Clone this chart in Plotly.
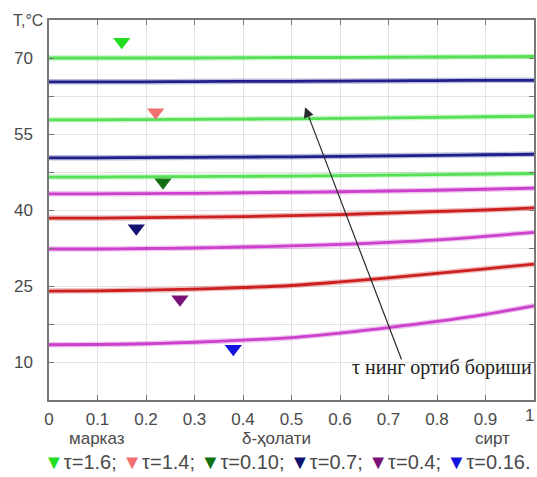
import plotly.graph_objects as go

# dimensionless coordinate from centre (0) to surface (1)
delta = [0.0, 0.1, 0.2, 0.3, 0.4, 0.5, 0.6, 0.7, 0.8, 0.9, 1.0]

# temperature profiles, top to bottom
t_profile_1 = [70.0, 70.0, 70.0, 70.0, 70.05, 70.1, 70.1, 70.15, 70.2, 70.25, 70.3]
t_profile_2 = [65.3, 65.3, 65.3, 65.35, 65.4, 65.4, 65.45, 65.5, 65.55, 65.6, 65.6]
t_profile_3 = [57.8, 57.8, 57.85, 57.9, 57.95, 58.0, 58.1, 58.2, 58.3, 58.4, 58.5]
t_profile_4 = [50.3, 50.3, 50.35, 50.4, 50.45, 50.5, 50.6, 50.7, 50.8, 50.9, 51.0]
t_profile_5 = [46.5, 46.5, 46.55, 46.6, 46.65, 46.7, 46.8, 46.9, 47.0, 47.1, 47.2]
t_profile_6 = [43.2, 43.2, 43.25, 43.3, 43.4, 43.5, 43.6, 43.75, 43.9, 44.1, 44.3]
t_profile_7 = [38.4, 38.4, 38.5, 38.6, 38.7, 38.9, 39.1, 39.4, 39.7, 40.0, 40.4]
t_profile_8 = [32.3, 32.3, 32.4, 32.5, 32.7, 32.9, 33.2, 33.6, 34.1, 34.8, 35.6]
t_profile_9 = [24.0, 24.05, 24.2, 24.4, 24.7, 25.1, 25.8, 26.6, 27.5, 28.4, 29.3]
t_profile_10 = [13.4, 13.45, 13.6, 13.9, 14.3, 14.8, 15.7, 16.8, 18.0, 19.4, 21.1]

profiles = [t_profile_1, t_profile_2, t_profile_3, t_profile_4, t_profile_5,
            t_profile_6, t_profile_7, t_profile_8, t_profile_9, t_profile_10]
profile_colors = ["#55e055", "#20208c", "#55e055", "#20208c", "#55e055",
                  "#cc40cc", "#cc2020", "#cc40cc", "#cc2020", "#cc40cc"]

# time markers
tau_labels = ["τ=1.6;", "τ=1.4;", "τ=0.10;", "τ=0.7;", "τ=0.4;", "τ=0.16."]
tau_x = [0.15, 0.22, 0.235, 0.18, 0.27, 0.38]
tau_y = [73.2, 59.3, 45.5, 36.4, 22.4, 12.6]
tau_colors = ["#22dd22", "#f07070", "#127012", "#121270", "#7a127a", "#1212e0"]

y_ticks = [2.5, 10, 17.5, 25, 32.5, 40, 47.5, 55, 62.5, 70, 77.5]
y_tick_text = ["", "10", "", "25", "", "40", "", "55", "", "70", ""]
x_ticks = [0, 0.1, 0.2, 0.3, 0.4, 0.5, 0.6, 0.7, 0.8, 0.9, 1.0]
# the last label sits on the page edge and is placed separately, right-aligned
x_tick_text = ["0", "0.1", "0.2", "0.3", "0.4", "0.5", "0.6", "0.7", "0.8", "0.9", ""]
x_last_label = "1"

fig = go.Figure()

for ys, col in zip(profiles, profile_colors):
    # soft halo under each curve
    fig.add_trace(go.Scatter(x=delta, y=ys, mode="lines", line=dict(color=col, width=5.5, shape="spline"),
                             opacity=0.3, showlegend=False, hoverinfo="skip"))
    fig.add_trace(go.Scatter(x=delta, y=ys, mode="lines", line=dict(color=col, width=2.8, shape="spline"),
                             showlegend=False))

for xv, yv, col in zip(tau_x, tau_y, tau_colors):
    fig.add_trace(go.Scatter(x=[xv], y=[yv], mode="markers",
                             marker=dict(symbol="triangle-down", size=15, color=col, line=dict(width=0)),
                             showlegend=False))

tick_font = dict(family="Liberation Sans, Arial", size=17, color="#4a4a4a")
axis_common = dict(showgrid=True, gridcolor="#e2e2e2", gridwidth=1, zeroline=False,
                   showline=True, linecolor="#777777", linewidth=1.5, mirror="ticks",
                   ticks="inside", ticklen=5, tickcolor="#777777", automargin=False,
                   ticklabeloverflow="allow", tickfont=tick_font)

fig.update_xaxes(range=[0, 1], tickvals=x_ticks, ticktext=x_tick_text, ticklabelstandoff=3, **axis_common)
fig.update_yaxes(range=[2.5, 77.5], tickvals=y_ticks, ticktext=y_tick_text, ticklabelstandoff=11, **axis_common)

W, H = 537, 477
L, R, T, B = 49, 3, 20, 77
pw, ph = W - L - R, H - T - B


def px(xp, yp):
    """paper coordinates for a pixel position on the page"""
    return (xp - L) / pw, (H - B - yp) / ph


annotations = [
    dict(x=0.528, y=60.3, ax=0.728, ay=10.2, xref="x", yref="y", axref="x", ayref="y",
         text="", showarrow=True, arrowhead=2, arrowsize=1.7, arrowwidth=1.2, arrowcolor="#2a2a2a"),
    dict(x=1.0, y=9.0, xref="x", yref="y", xanchor="right", yanchor="middle", showarrow=False,
         text="τ нинг ортиб бориши",
         font=dict(family="Liberation Serif, Times New Roman", size=20, color="#222222")),
]

ex, ey = px(536, 415)
annotations.append(dict(x=ex, y=ey, xref="paper", yref="paper", text=x_last_label, showarrow=False,
                        xanchor="right", yanchor="middle", font=tick_font))

tx, ty = px(28, 20)
annotations.append(dict(x=tx, y=ty, xref="paper", yref="paper", text="T,°C", showarrow=False,
                        xanchor="center", yanchor="middle",
                        font=dict(family="Liberation Sans, Arial", size=16, color="#4a4a4a")))

lab_font = dict(family="Liberation Sans, Arial", size=17, color="#4a4a4a")
for text, xp in [("марказ", 97), ("δ-ҳолати", 276), ("сирт", 492)]:
    x0, y0 = px(xp, 438)
    annotations.append(dict(x=x0, y=y0, xref="paper", yref="paper", text=text, showarrow=False,
                            xanchor="center", yanchor="middle", font=lab_font))

legend_parts = []
for lab, col in zip(tau_labels, tau_colors):
    legend_parts.append(f"<span style='color:{col}'>▼</span>{lab}")
lx, ly = px(287, 462)
annotations.append(dict(x=lx, y=ly, xref="paper", yref="paper", text="&nbsp;".join(legend_parts),
                        showarrow=False, xanchor="center", yanchor="middle",
                        font=dict(family="Liberation Sans, Arial", size=20, color="#4a4a4a")))

fig.update_layout(width=W, height=H, margin=dict(l=L, r=R, t=T, b=B, autoexpand=False),
                  paper_bgcolor="white", plot_bgcolor="white", showlegend=False,
                  annotations=annotations)

fig.write_html("out.html")
